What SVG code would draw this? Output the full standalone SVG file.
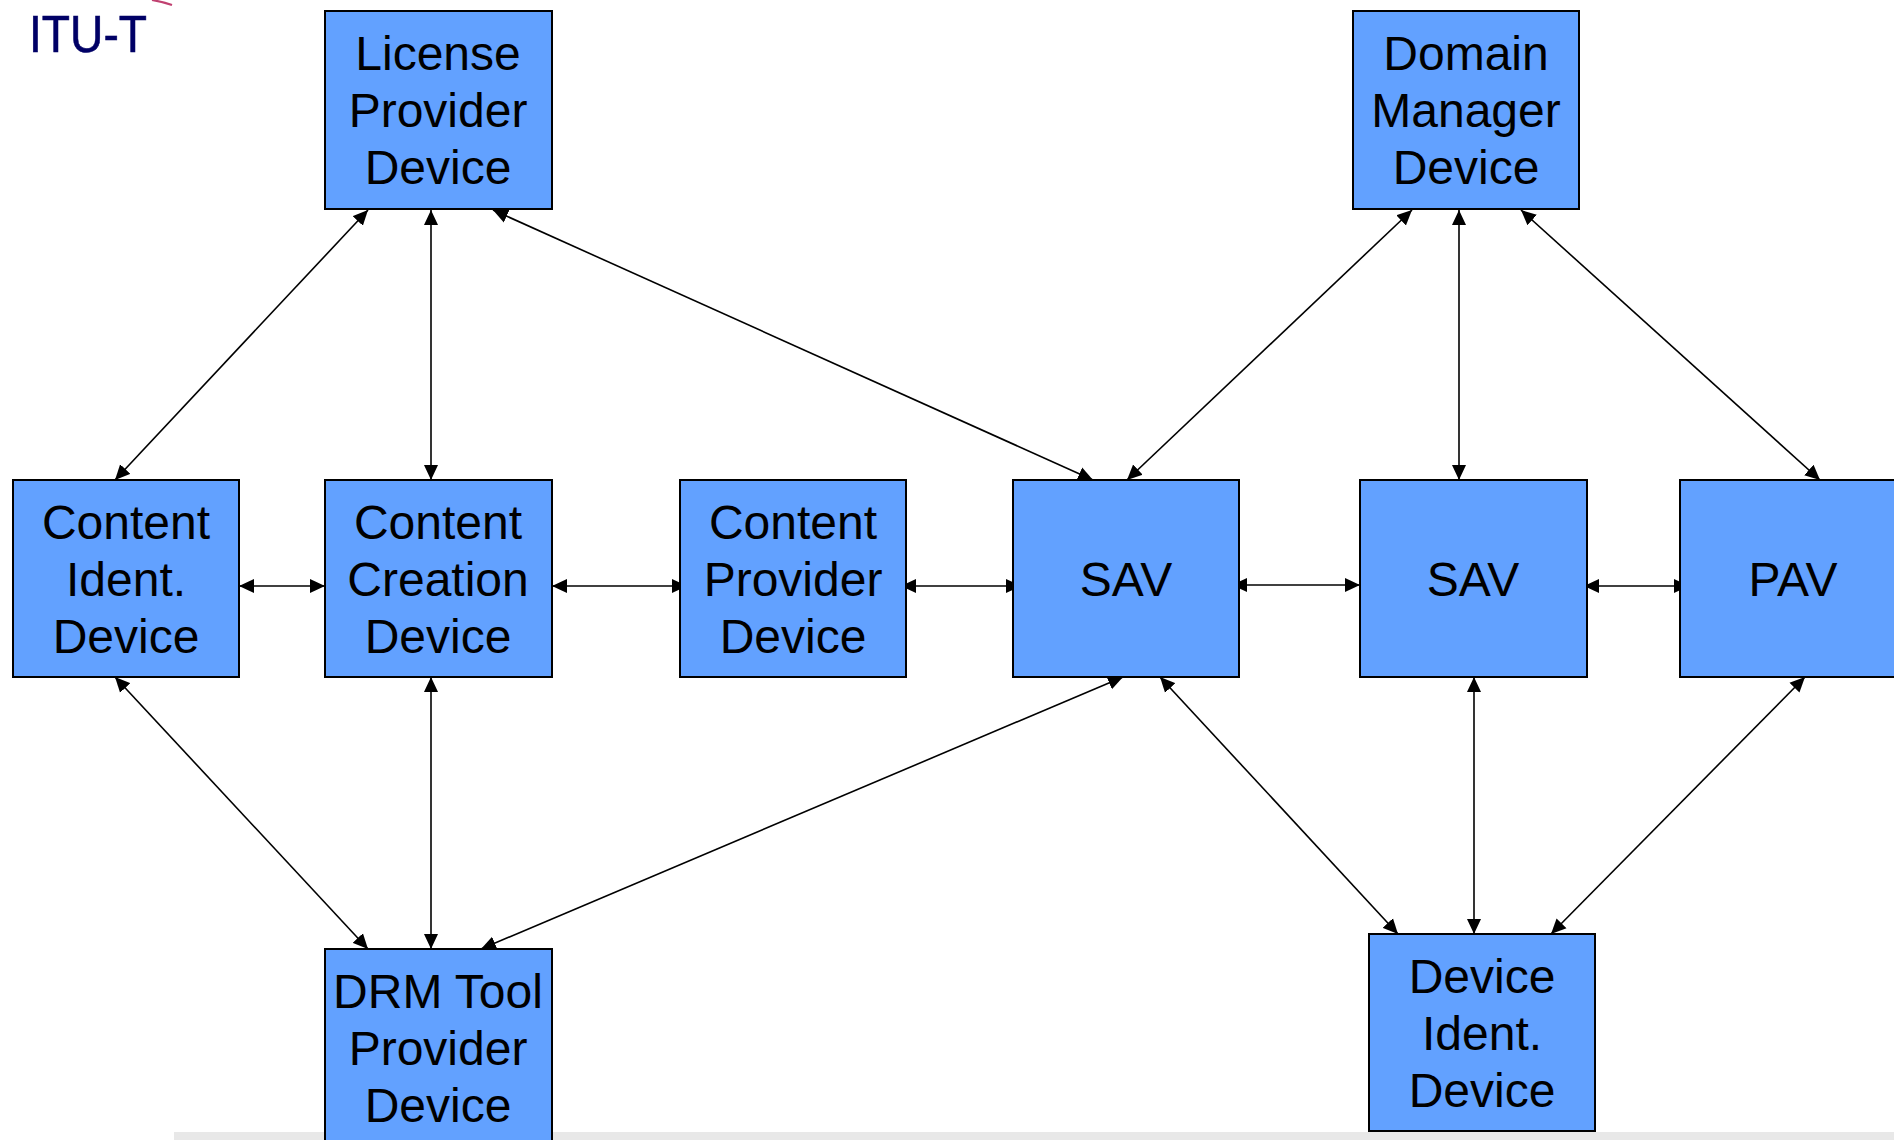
<svg xmlns="http://www.w3.org/2000/svg" width="1894" height="1140" viewBox="0 0 1894 1140">
<style>
.box{fill:#62a1ff;stroke:#000;stroke-width:2}
.lbl{font-family:"Liberation Sans",Arial,sans-serif;font-size:48px;fill:#000;text-anchor:middle}
.cn{stroke:#000;stroke-width:1.6;fill:none;marker-start:url(#ah);marker-end:url(#ah)}
</style>
<defs>
<marker id="ah" markerUnits="userSpaceOnUse" markerWidth="16" markerHeight="15" refX="15" refY="7" orient="auto-start-reverse" viewBox="0 0 16 14">
<path d="M0,0 L15,7 L0,14 z" fill="#000"/>
</marker>
</defs>
<rect width="1894" height="1140" fill="#fff"/>
<rect x="174" y="1132" width="1720" height="8" fill="#e8e8e8"/>
<path d="M152,0 Q163,2 172,5" stroke="#c04070" stroke-width="2.2" fill="none"/>
<text x="29" y="52" font-family="Liberation Sans,Arial,sans-serif" font-size="51" fill="#000066" stroke="#000066" stroke-width="0.6" textLength="118" lengthAdjust="spacingAndGlyphs">ITU-T</text>

<g id="connectors">
<line class="cn" x1="368" y1="210" x2="115" y2="480"/>
<line class="cn" x1="431" y1="210" x2="431" y2="480"/>
<line class="cn" x1="493" y1="210" x2="1093" y2="480"/>
<line class="cn" x1="1412" y1="210" x2="1127" y2="480"/>
<line class="cn" x1="1459" y1="210" x2="1459" y2="480"/>
<line class="cn" x1="1521" y1="210" x2="1820" y2="480"/>
<line class="cn" x1="239" y1="586" x2="325" y2="586"/>
<line class="cn" x1="552" y1="586" x2="687" y2="586"/>
<line class="cn" x1="901" y1="586" x2="1021" y2="586"/>
<line class="cn" x1="1232" y1="585" x2="1360" y2="585"/>
<line class="cn" x1="1584" y1="586" x2="1689" y2="586"/>
<line class="cn" x1="115" y1="677" x2="368" y2="949"/>
<line class="cn" x1="431" y1="677" x2="431" y2="949"/>
<line class="cn" x1="1123" y1="677" x2="481" y2="949"/>
<line class="cn" x1="1160" y1="677" x2="1398" y2="934"/>
<line class="cn" x1="1474" y1="677" x2="1474" y2="934"/>
<line class="cn" x1="1805" y1="677" x2="1551" y2="934"/>
</g>

<g id="license-provider">
<rect class="box" x="325" y="11" width="227" height="198"/>
<text class="lbl" x="438" y="70">License</text>
<text class="lbl" x="438" y="127">Provider</text>
<text class="lbl" x="438" y="184">Device</text>
</g>
<g id="domain-manager">
<rect class="box" x="1353" y="11" width="226" height="198"/>
<text class="lbl" x="1466" y="70">Domain</text>
<text class="lbl" x="1466" y="127">Manager</text>
<text class="lbl" x="1466" y="184">Device</text>
</g>
<g id="content-ident">
<rect class="box" x="13" y="480" width="226" height="197"/>
<text class="lbl" x="126" y="539">Content</text>
<text class="lbl" x="126" y="596">Ident.</text>
<text class="lbl" x="126" y="653">Device</text>
</g>
<g id="content-creation">
<rect class="box" x="325" y="480" width="227" height="197"/>
<text class="lbl" x="438" y="539">Content</text>
<text class="lbl" x="438" y="596">Creation</text>
<text class="lbl" x="438" y="653">Device</text>
</g>
<g id="content-provider">
<rect class="box" x="680" y="480" width="226" height="197"/>
<text class="lbl" x="793" y="539">Content</text>
<text class="lbl" x="793" y="596">Provider</text>
<text class="lbl" x="793" y="653">Device</text>
</g>
<g id="sav1">
<rect class="box" x="1013" y="480" width="226" height="197"/>
<text class="lbl" x="1126" y="596">SAV</text>
</g>
<g id="sav2">
<rect class="box" x="1360" y="480" width="227" height="197"/>
<text class="lbl" x="1473" y="596">SAV</text>
</g>
<g id="pav">
<rect class="box" x="1680" y="480" width="227" height="197"/>
<text class="lbl" x="1793" y="596">PAV</text>
</g>
<g id="drm-tool-provider">
<rect class="box" x="325" y="949" width="227" height="198"/>
<text class="lbl" x="438" y="1008">DRM Tool</text>
<text class="lbl" x="438" y="1065">Provider</text>
<text class="lbl" x="438" y="1122">Device</text>
</g>
<g id="device-ident">
<rect class="box" x="1369" y="934" width="226" height="197"/>
<text class="lbl" x="1482" y="993">Device</text>
<text class="lbl" x="1482" y="1050">Ident.</text>
<text class="lbl" x="1482" y="1107">Device</text>
</g>
</svg>
